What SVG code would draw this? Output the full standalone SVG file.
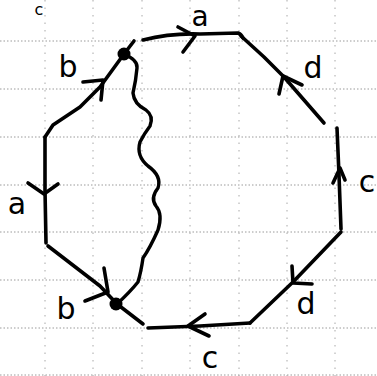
<svg xmlns="http://www.w3.org/2000/svg" width="377" height="376" viewBox="0 0 377 376">
<style>
.bg{fill:#ffffff}
.gh{stroke:#9a9a9a;stroke-width:1;stroke-dasharray:1.5 2;fill:none}
.gv{stroke:#a8a8a8;stroke-width:1;stroke-dasharray:1.5 6;fill:none}
.edge{stroke:#000;stroke-width:3.6;fill:none;stroke-linecap:round;stroke-linejoin:round}
.arrow{stroke:#000;stroke-width:3.6;fill:none;stroke-linecap:round;stroke-linejoin:round}
.wavy{stroke:#000;stroke-width:3.4;fill:none;stroke-linecap:round;stroke-linejoin:round}
.dot{fill:#000}
.lbl{font-family:"DejaVu Sans","Liberation Sans",sans-serif;font-size:30px;fill:#000;text-anchor:middle}
.sm{font-size:16px}
.top{font-size:28px}
</style>
<rect class="bg" x="0" y="0" width="377" height="376"/>
<g id="grid">
<path class="gh" d="M0 41H377M0 89H377M0 137H377M0 185H377M0 232H377M0 280H377M0 328H377M0 375H377"/>
<path class="gv" d="M45 0V376M93 0V376M142 0V376M190 0V376M239 0V376M287 0V376M335 0V376"/>
</g>
<g id="connectors">
<path id="e-top" class="edge" d="M124 54 L134 41 M143 40 Q170 33 200 34 L238 33 Q241 34 243 38"/>
<path id="e-upper-right" class="edge" d="M241 36 L264 57 L284 77 L324 123"/>
<path id="e-right" class="edge" d="M337 128 L339 175 L341 229"/>
<path id="e-lower-right" class="edge" d="M341 232 L293 282 L250 323"/>
<path id="e-bottom" class="edge" d="M250 323 L200 326 L148 328"/>
<path id="e-bottom-in" class="edge" d="M143 324 L117 304"/>
<path id="e-lower-left" class="edge" d="M117 304 L100 286 L48 246"/>
<path id="e-left" class="edge" d="M46 243 L45 190 L45 137"/>
<path id="e-upper-left" class="edge" d="M45 137 L53 125 L80 107 L100 87 L124 54"/>
<path id="wavy" class="wavy" d="M124 54 Q138 60 137 68 Q136 80 133 93 Q134 104 146 110 Q154 116 150 126 Q144 134 140 142 Q136 156 148 166 Q162 176 158 188 Q150 198 156 206 Q163 214 158 230 Q150 248 143 258 Q141 272 138 282 Q130 292 117 304"/>
<path class="arrow" d="M178 27 L195 36 L183 52"/>
<path class="arrow" d="M279 94 L283 76 L302 85"/>
<path class="arrow" d="M333 183 L340 168 L345 180"/>
<path class="arrow" d="M292 266 L293 283 L312 284"/>
<path class="arrow" d="M205 314 L188 326 L209 336"/>
<path class="arrow" d="M104 268 L108 292 L85 301"/>
<path class="arrow" d="M28 183 L44 194 L58 184"/>
<path class="arrow" d="M83 82 L103 80 L101 100"/>
</g>
<g id="node-top"><circle class="dot" cx="124" cy="54" r="6.5"/></g>
<g id="node-bottom"><circle class="dot" cx="116" cy="304" r="6.5"/></g>
<g id="labels">
<text class="lbl sm" x="39" y="15">c</text>
<text class="lbl top" x="200" y="26">a</text>
<text class="lbl" x="313" y="78">d</text>
<text class="lbl" x="367" y="192">c</text>
<text class="lbl" x="306" y="314">d</text>
<text class="lbl" x="210" y="368">c</text>
<text class="lbl" x="66" y="319">b</text>
<text class="lbl" x="17" y="214">a</text>
<text class="lbl" x="68" y="77">b</text>
</g>
</svg>
